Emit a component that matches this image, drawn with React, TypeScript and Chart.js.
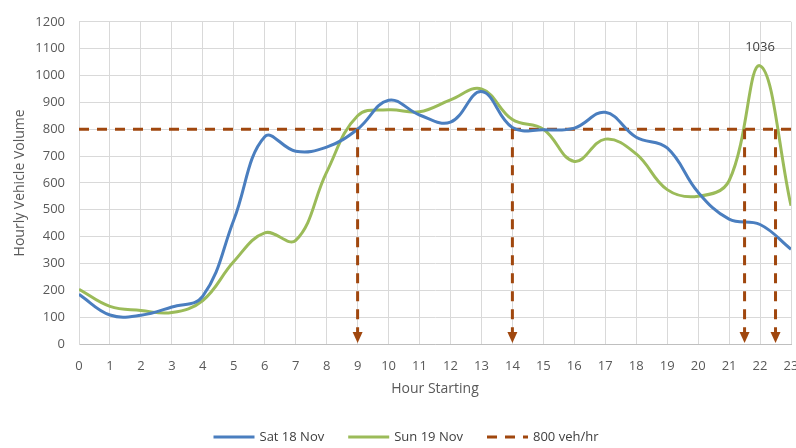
import React, { useEffect, useRef } from "react";
import { Chart, registerables } from "chart.js";

Chart.register(...registerables);

const hours = [0, 1, 2, 3, 4, 5, 6, 7, 8, 9, 10, 11, 12, 13, 14, 15, 16, 17, 18, 19, 20, 21, 22, 23];
const satValues = [185, 108, 107, 138, 178, 462, 772, 718, 733, 800, 908, 853, 826, 940, 806, 798, 804, 863, 770, 730, 565, 465, 445, 353];
const sunValues = [204, 140, 125, 117, 162, 307, 414, 386, 640, 850, 872, 865, 909, 950, 836, 800, 680, 763, 708, 575, 550, 608, 1036, 515];
const thresholdValue = 800;
const thresholdHours = [0, 23];
const arrowHours = [9, 14, 21.5, 22.5];
const peakLabelHour = 22;
const peakLabelText = "1036";
const seriesLabels = ["Sat 18 Nov", "Sun 19 Nov", "800 veh/hr"];

const BLUE = "#4a7ebf";
const GREEN = "#9bbb59";
const BROWN = "#a0470e";
const FONT = "'Open Sans', 'Liberation Sans', sans-serif";

const overlayPlugin = {
  id: "overlay",
  afterDatasetsDraw(chart: any) {
    const { ctx, scales } = chart;
    const xs = scales.x;
    const ys = scales.y;
    ctx.save();
    ctx.strokeStyle = BROWN;
    ctx.fillStyle = BROWN;
    ctx.lineWidth = 3;
    for (const h of arrowHours) {
      const px = xs.getPixelForValue(h);
      const yTop = ys.getPixelForValue(thresholdValue);
      const yBot = ys.getPixelForValue(0);
      ctx.setLineDash([10, 8]);
      ctx.beginPath();
      ctx.moveTo(px, yTop);
      ctx.lineTo(px, yBot - 10);
      ctx.stroke();
      ctx.setLineDash([]);
      ctx.beginPath();
      ctx.moveTo(px - 5, yBot - 12);
      ctx.lineTo(px + 5, yBot - 12);
      ctx.lineTo(px, yBot - 1);
      ctx.closePath();
      ctx.fill();
    }
    const idx = hours.indexOf(peakLabelHour);
    const lx = xs.getPixelForValue(peakLabelHour);
    const ly = ys.getPixelForValue(sunValues[idx]);
    ctx.fillStyle = "#404040";
    ctx.font = `13px ${FONT}`;
    ctx.textAlign = "center";
    ctx.textBaseline = "bottom";
    ctx.fillText(peakLabelText, lx, ly - 12);
    ctx.restore();
  },
  afterDraw(chart: any) {
    const { ctx } = chart;
    const ds = chart.data.datasets;
    ctx.save();
    ctx.font = `13px ${FONT}`;
    const lineW = 41;
    const gapText = 5;
    const gapItem = 24;
    const widths = ds.map((d: any) => lineW + gapText + ctx.measureText(d.label).width);
    const total = widths.reduce((a: number, b: number) => a + b, 0) + gapItem * (ds.length - 1);
    let x = 406 - total / 2;
    const y = 437;
    ds.forEach((d: any, i: number) => {
      ctx.strokeStyle = d.borderColor;
      ctx.lineWidth = 3;
      ctx.setLineDash(d.borderDash || []);
      ctx.beginPath();
      ctx.moveTo(x, y);
      ctx.lineTo(x + lineW, y);
      ctx.stroke();
      ctx.setLineDash([]);
      ctx.fillStyle = "#404040";
      ctx.textAlign = "left";
      ctx.textBaseline = "middle";
      ctx.fillText(d.label, x + lineW + gapText, y);
      x += widths[i] + gapItem;
    });
    ctx.restore();
  },
};

export default function App() {
  const canvasRef = useRef<HTMLCanvasElement | null>(null);

  useEffect(() => {
    const canvas = canvasRef.current;
    if (!canvas) return;
    const chart = new Chart(canvas, {
      type: "line",
      data: {
        datasets: [
          {
            label: seriesLabels[0],
            data: hours.map((h, i) => ({ x: h, y: satValues[i] })),
            borderColor: BLUE,
            backgroundColor: BLUE,
            borderWidth: 3,
            pointRadius: 0,
            tension: 0.4,
          },
          {
            label: seriesLabels[1],
            data: hours.map((h, i) => ({ x: h, y: sunValues[i] })),
            borderColor: GREEN,
            backgroundColor: GREEN,
            borderWidth: 3,
            pointRadius: 0,
            tension: 0.4,
          },
          {
            label: seriesLabels[2],
            data: thresholdHours.map((h) => ({ x: h, y: thresholdValue })),
            borderColor: BROWN,
            backgroundColor: BROWN,
            borderWidth: 3,
            borderDash: [10, 8],
            pointRadius: 0,
            tension: 0,
          },
        ],
      },
      options: {
        animation: false,
        responsive: false,
        devicePixelRatio: 1,
        layout: { padding: { left: 0, right: 0, top: 10, bottom: 25 } },
        plugins: {
          tooltip: { enabled: false },
          legend: { display: false },
        },
        scales: {
          x: {
            type: "linear",
            min: 0,
            max: 23,
            ticks: {
              stepSize: 1,
              color: "#595959",
              font: { family: FONT, size: 13 },
              maxRotation: 0,
              padding: 14,
            },
            grid: { color: "#d9d9d9", drawTicks: false },
            border: { color: "#bfbfbf" },
            title: {
              display: true,
              text: "Hour Starting",
              color: "#595959",
              font: { family: FONT, size: 14 },
              padding: { top: 6, bottom: 26 },
            },
            afterFit: (s: any) => {
              s.height = 79;
              s.paddingLeft = 0;
              s.paddingRight = 5;
            },
          },
          y: {
            min: 0,
            max: 1200,
            ticks: {
              stepSize: 100,
              color: "#595959",
              font: { family: FONT, size: 13 },
              padding: 14,
              callback: (v: any) => String(v),
            },
            grid: { color: "#d9d9d9", drawTicks: false },
            border: { color: "#d9d9d9" },
            title: {
              display: true,
              text: "Hourly Vehicle Volume",
              color: "#595959",
              font: { family: FONT, size: 14 },
              padding: { top: 12, bottom: 12 },
            },
            afterFit: (s: any) => {
              s.width = 79;
            },
          },
        },
      },
      plugins: [overlayPlugin],
    } as any);
    return () => chart.destroy();
  }, []);

  return (
    <div style={{ position: "fixed", left: 0, top: 0, width: 796, height: 448, background: "#fff" }}>
      <canvas ref={canvasRef} width={796} height={448} style={{ display: "block" }} />
    </div>
  );
}
